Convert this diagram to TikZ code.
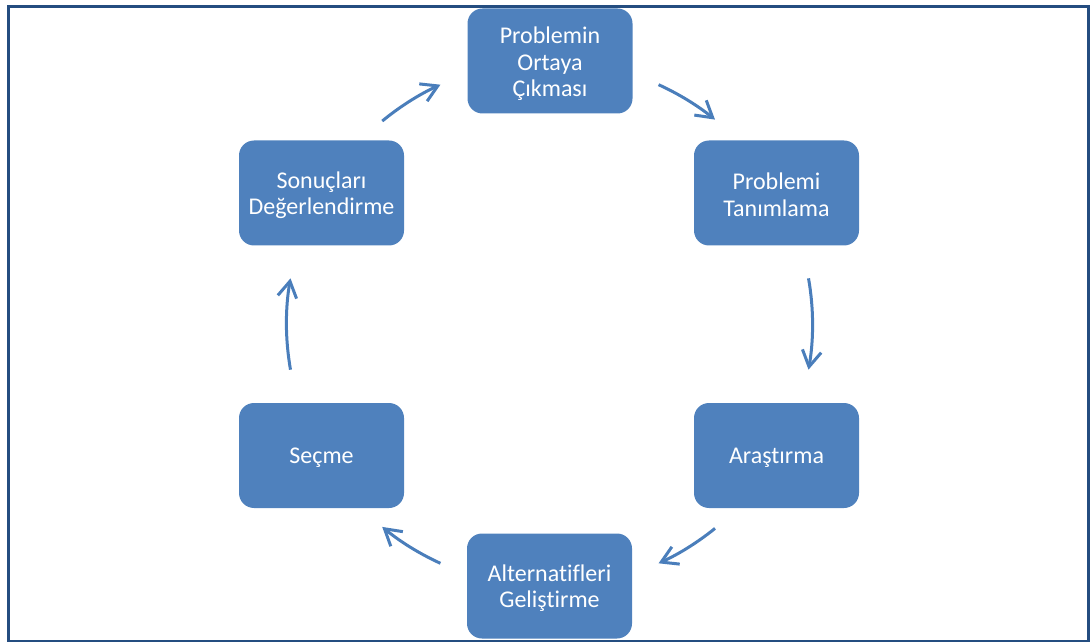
\documentclass[tikz,border=0pt]{standalone}
\usepackage{fontspec}
\setmainfont{Carlito}[Ligatures=NoCommon]
\usetikzlibrary{arrows.meta,calc}
\definecolor{boxblue}{HTML}{4F81BD}
\definecolor{arrowblue}{HTML}{4A7EBB}
\definecolor{framenavy}{HTML}{244D80}
\begin{document}
\begin{tikzpicture}[x=1pt,y=1pt,
  stepbox/.style={draw=none, fill=boxblue, rounded corners=15pt,
    minimum width=165pt, minimum height=105pt, inner sep=0pt},
  steptext/.style={text=white, align=center, inner sep=0pt,
    font=\fontsize{24}{26.5}\selectfont},
  cyclearrow/.style={draw=arrowblue, line width=3pt,
    -{Straight Barb[length=16pt,width=19pt]}}]
\useasboundingbox (0,0) rectangle (1090,641);
% outer frame
\draw[framenavy, line width=3.5pt] (8.5,-0.5) rectangle (1088.7,634.7);

% process steps around the cycle
\node[stepbox] (ortaya)  at (550,580)     {};
\node[stepbox] (tanim)   at (776.5,448)   {};
\node[stepbox] (arastir) at (776.5,185.5) {};
\node[stepbox] (altern)  at (549.5,55)    {};
\node[stepbox] (secme)   at (321.5,185.5) {};
\node[stepbox] (sonuc)   at (321.5,448)   {};

% step captions, set a little below the box centres
\node[steptext] (ortaya-t)  at ([yshift=-3pt]ortaya.center)    {Problemin\\Ortaya\\Çıkması};
\node[steptext] (tanim-t)   at ([yshift=-2pt]tanim.center)     {Problemi\\Tanımlama};
\node[steptext] (arastir-t) at ([yshift=-2pt]arastir.center)   {Araştırma};
\node[steptext] (altern-t)  at ([yshift=-2pt]altern.center)    {Alternatifleri\\Geliştirme};
\node[steptext] (secme-t)   at ([yshift=-2pt]secme.center)     {Seçme};
\node[steptext] (sonuc-t)   at ([yshift=-2pt]sonuc.center)     {Sonuçları\\Değerlendirme};

% circular arrows between the steps, all on one circle
\coordinate (hub) at (549.5,317);
\def\rad{263}
\coordinate (s1) at ($(hub)+(129.5:\rad pt)$);
\coordinate (s2) at ($(hub)+(65.5:\rad pt)$);
\coordinate (s3) at ($(hub)+(10:\rad pt)$);
\coordinate (s4) at ($(hub)+(-51:\rad pt)$);
\coordinate (s5) at ($(hub)+(-114.5:\rad pt)$);
\coordinate (s6) at ($(hub)+(190:\rad pt)$);

\draw[cyclearrow] (s1) arc[start angle=129.5, end angle=114.5, radius=\rad pt];
\draw[cyclearrow] (s2) arc[start angle=65.5, end angle=51, radius=\rad pt];
\draw[cyclearrow] (s3) arc[start angle=10, end angle=-10, radius=\rad pt];
\draw[cyclearrow] (s4) arc[start angle=-51, end angle=-65.5, radius=\rad pt];
\draw[cyclearrow] (s5) arc[start angle=-114.5, end angle=-129.5, radius=\rad pt];
\draw[cyclearrow] (s6) arc[start angle=190, end angle=170, radius=\rad pt];
\end{tikzpicture}
\end{document}
